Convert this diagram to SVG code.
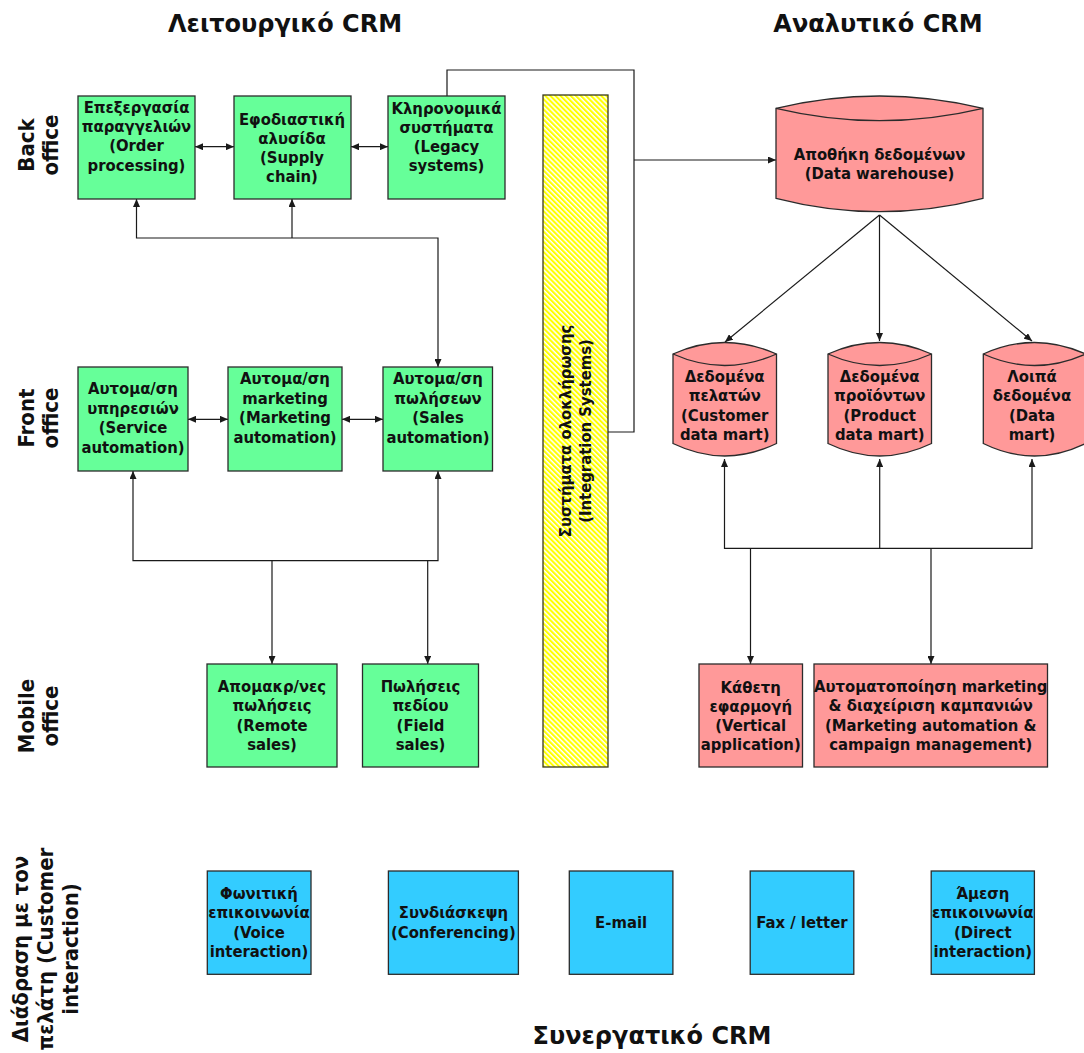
<svg xmlns="http://www.w3.org/2000/svg" width="1084" height="1053" viewBox="0 0 1084 1053">
  <style>
    text { font-family: "DejaVu Sans Condensed", "DejaVu Sans", sans-serif; font-weight: bold; fill: #111; }
    .t { font-size: 16.5px; text-anchor: middle; }
    .title { font-family: "DejaVu Sans", sans-serif; font-size: 24px; text-anchor: middle; }
    .lane { font-size: 22px; text-anchor: middle; }
    .green { fill: #66ff99; stroke: #2b2b2b; stroke-width: 1.3; }
    .pink { fill: #ff9999; stroke: #2b2b2b; stroke-width: 1.3; }
    .blue { fill: #33ccff; stroke: #2b2b2b; stroke-width: 1.3; }
    .rim { fill: none; stroke: #2b2b2b; stroke-width: 1.3; }
    .conn path { fill: none; stroke: #1a1a1a; stroke-width: 1.2; }
    .a { marker-end: url(#arr); }
    .aa { marker-start: url(#arr); marker-end: url(#arr); }
  </style>
  <defs>
    <marker id="arr" viewBox="0 0 8 7" refX="8" refY="3.5" markerWidth="8" markerHeight="7" markerUnits="userSpaceOnUse" orient="auto-start-reverse">
      <path d="M0,0 L8,3.5 L0,7 z" fill="#1a1a1a"/>
    </marker>
    <pattern id="hatch" patternUnits="userSpaceOnUse" width="3.6" height="3.6" patternTransform="rotate(45)">
      <rect width="3.6" height="3.6" fill="#ffff00"/>
      <rect width="3.6" height="1.5" fill="#ffffff"/>
    </pattern>
  </defs>

  <rect width="1084" height="1053" fill="#ffffff"/>

  <!-- headings -->
  <text class="title" x="285" y="32">Λειτουργικό CRM</text>
  <text class="title" x="878" y="32">Αναλυτικό CRM</text>
  <text class="title" x="652" y="1044">Συνεργατικό CRM</text>

  <!-- lane labels -->
  <text class="lane" transform="translate(34,145) rotate(-90)"><tspan x="0" y="0">Back</tspan><tspan x="0" y="24">office</tspan></text>
  <text class="lane" transform="translate(34,418) rotate(-90)"><tspan x="0" y="0">Front</tspan><tspan x="0" y="24">office</tspan></text>
  <text class="lane" transform="translate(34,716) rotate(-90)"><tspan x="0" y="0">Mobile</tspan><tspan x="0" y="24">office</tspan></text>
  <text class="lane" transform="translate(28,949) rotate(-90)"><tspan x="0" y="0">Διάδραση με τον</tspan><tspan x="0" y="25">πελάτη (Customer</tspan><tspan x="0" y="50">interaction)</tspan></text>

  <!-- connectors -->
  <g id="connectors" class="conn">
    <path class="aa" d="M195,146.7 H234"/>
    <path class="aa" d="M351,146.7 H388"/>
    <path class="aa" d="M438,367 V238 H136.5 V199"/>
    <path class="a" d="M292,238 V199"/>
    <path d="M447,96 V70 H634 V432 H608"/>
    <path class="a" d="M634,160 H776"/>
    <path class="a" d="M879.5,215 L725,342"/>
    <path class="a" d="M879.5,215 V341"/>
    <path class="a" d="M879.5,215 L1032,341"/>
    <path class="aa" d="M188,419.3 H228"/>
    <path class="aa" d="M342,419.3 H383"/>
    <path class="aa" d="M133,471 V560.7 H438 V471"/>
    <path class="a" d="M272,560.7 V664"/>
    <path class="a" d="M427.7,560.7 V664"/>
    <path class="aa" d="M724.5,459 V548.3 H1032 V459"/>
    <path class="a" d="M879.7,548.3 V459"/>
    <path class="a" d="M750.5,548.3 V664"/>
    <path class="a" d="M931,548.3 V664"/>
  </g>

  <!-- integration bar -->
  <g id="integration">
    <rect x="543" y="95" width="65" height="672" fill="url(#hatch)" stroke="#3a3a1a" stroke-width="1.3"/>
    <text class="t" transform="translate(571,431) rotate(-90)"><tspan x="0" y="0">Συστήματα ολοκλήρωσης</tspan><tspan x="0" y="20">(Integration Systems)</tspan></text>
  </g>

  <!-- back office -->
  <g id="order">
    <rect class="green" x="78" y="96" width="117" height="103"/>
    <text class="t"><tspan x="136.5" y="112.5">Επεξεργασία</tspan><tspan x="136.5" y="131.5">παραγγελιών</tspan><tspan x="136.5" y="151">(Order</tspan><tspan x="136.5" y="170.5">processing)</tspan></text>
  </g>
  <g id="supply">
    <rect class="green" x="234" y="96" width="117" height="103"/>
    <text class="t"><tspan x="292" y="125">Εφοδιαστική</tspan><tspan x="292" y="144">αλυσίδα</tspan><tspan x="292" y="163">(Supply</tspan><tspan x="292" y="182">chain)</tspan></text>
  </g>
  <g id="legacy">
    <rect class="green" x="388" y="96" width="117" height="103"/>
    <text class="t"><tspan x="446.5" y="113.5">Κληρονομικά</tspan><tspan x="446.5" y="132.5">συστήματα</tspan><tspan x="446.5" y="151.5">(Legacy</tspan><tspan x="446.5" y="170.5">systems)</tspan></text>
  </g>

  <!-- front office -->
  <g id="service">
    <rect class="green" x="78" y="367" width="110" height="104"/>
    <text class="t"><tspan x="133" y="394">Αυτομα/ση</tspan><tspan x="133" y="413.5">υπηρεσιών</tspan><tspan x="133" y="433">(Service</tspan><tspan x="133" y="452.5">automation)</tspan></text>
  </g>
  <g id="marketing">
    <rect class="green" x="228" y="367" width="114" height="104"/>
    <text class="t"><tspan x="285" y="384">Αυτομα/ση</tspan><tspan x="285" y="403.5">marketing</tspan><tspan x="285" y="423">(Marketing</tspan><tspan x="285" y="442.5">automation)</tspan></text>
  </g>
  <g id="sales">
    <rect class="green" x="383" y="367" width="109.5" height="104"/>
    <text class="t"><tspan x="438" y="384">Αυτομα/ση</tspan><tspan x="438" y="403.5">πωλήσεων</tspan><tspan x="438" y="423">(Sales</tspan><tspan x="438" y="442.5">automation)</tspan></text>
  </g>

  <!-- mobile office -->
  <g id="remote">
    <rect class="green" x="207" y="664" width="130" height="103"/>
    <text class="t"><tspan x="272" y="692">Απομακρ/νες</tspan><tspan x="272" y="711">πωλήσεις</tspan><tspan x="272" y="730.5">(Remote</tspan><tspan x="272" y="750">sales)</tspan></text>
  </g>
  <g id="field">
    <rect class="green" x="362.5" y="664" width="116" height="103"/>
    <text class="t"><tspan x="420.5" y="692">Πωλήσεις</tspan><tspan x="420.5" y="711">πεδίου</tspan><tspan x="420.5" y="730.5">(Field</tspan><tspan x="420.5" y="750">sales)</tspan></text>
  </g>

  <!-- analytical side -->
  <g id="warehouse">
    <path class="pink" d="M776,108.3 Q879.5,83.7 983,108.3 V198.3 Q879.5,225 776,198.3 Z"/>
    <path class="rim" d="M776,108.3 Q879.5,133 983,108.3"/>
    <text class="t"><tspan x="879.5" y="160">Αποθήκη δεδομένων</tspan><tspan x="879.5" y="179">(Data warehouse)</tspan></text>
  </g>
  <g id="customer-mart">
    <path class="pink" d="M673,354 Q724.7,331 776.5,354 V443.5 Q724.7,468.5 673,443.5 Z"/>
    <path class="rim" d="M673,354 Q724.7,377 776.5,354"/>
    <text class="t"><tspan x="724.7" y="382">Δεδομένα</tspan><tspan x="724.7" y="401">πελατών</tspan><tspan x="724.7" y="420.5">(Customer</tspan><tspan x="724.7" y="440">data mart)</tspan></text>
  </g>
  <g id="product-mart">
    <path class="pink" d="M828,354 Q879.7,331 931.5,354 V443.5 Q879.7,468.5 828,443.5 Z"/>
    <path class="rim" d="M828,354 Q879.7,377 931.5,354"/>
    <text class="t"><tspan x="879.7" y="382">Δεδομένα</tspan><tspan x="879.7" y="401">προϊόντων</tspan><tspan x="879.7" y="420.5">(Product</tspan><tspan x="879.7" y="440">data mart)</tspan></text>
  </g>
  <g id="other-mart">
    <path class="pink" d="M983.3,354 Q1034.5,331 1085.5,354 V443.5 Q1034.5,468.5 983.3,443.5 Z"/>
    <path class="rim" d="M983.3,354 Q1034.5,377 1085.5,354"/>
    <text class="t"><tspan x="1032" y="382">Λοιπά</tspan><tspan x="1032" y="401">δεδομένα</tspan><tspan x="1032" y="420.5">(Data</tspan><tspan x="1032" y="440">mart)</tspan></text>
  </g>
  <g id="vertical-app">
    <rect class="pink" x="699" y="664" width="103.5" height="103"/>
    <text class="t"><tspan x="750.7" y="692.5">Κάθετη</tspan><tspan x="750.7" y="711.5">εφαρμογή</tspan><tspan x="750.7" y="731">(Vertical</tspan><tspan x="750.7" y="750">application)</tspan></text>
  </g>
  <g id="campaign">
    <rect class="pink" x="814" y="664" width="233.5" height="103"/>
    <text class="t"><tspan x="930.7" y="692">Αυτοματοποίηση marketing</tspan><tspan x="930.7" y="711">&amp; διαχείριση καμπανιών</tspan><tspan x="930.7" y="731">(Marketing automation &amp;</tspan><tspan x="930.7" y="750">campaign management)</tspan></text>
  </g>

  <!-- customer interaction channels -->
  <g id="voice">
    <rect class="blue" x="207.3" y="871" width="103.7" height="103.3"/>
    <text class="t"><tspan x="259" y="899">Φωνιτική</tspan><tspan x="259" y="918">επικοινωνία</tspan><tspan x="259" y="937.5">(Voice</tspan><tspan x="259" y="956.5">interaction)</tspan></text>
  </g>
  <g id="conferencing">
    <rect class="blue" x="388.4" y="871" width="130" height="103.3"/>
    <text class="t"><tspan x="453.4" y="918">Συνδιάσκεψη</tspan><tspan x="453.4" y="937.5">(Conferencing)</tspan></text>
  </g>
  <g id="email">
    <rect class="blue" x="569.3" y="871" width="103.6" height="103.3"/>
    <text class="t" x="621.1" y="928.3">E-mail</text>
  </g>
  <g id="fax">
    <rect class="blue" x="750.2" y="871" width="103.6" height="103.3"/>
    <text class="t" x="802" y="928.3">Fax / letter</text>
  </g>
  <g id="direct">
    <rect class="blue" x="931.2" y="871" width="103.2" height="103.3"/>
    <text class="t"><tspan x="982.8" y="899">Άμεση</tspan><tspan x="982.8" y="918">επικοινωνία</tspan><tspan x="982.8" y="937.5">(Direct</tspan><tspan x="982.8" y="956.5">interaction)</tspan></text>
  </g>
</svg>
